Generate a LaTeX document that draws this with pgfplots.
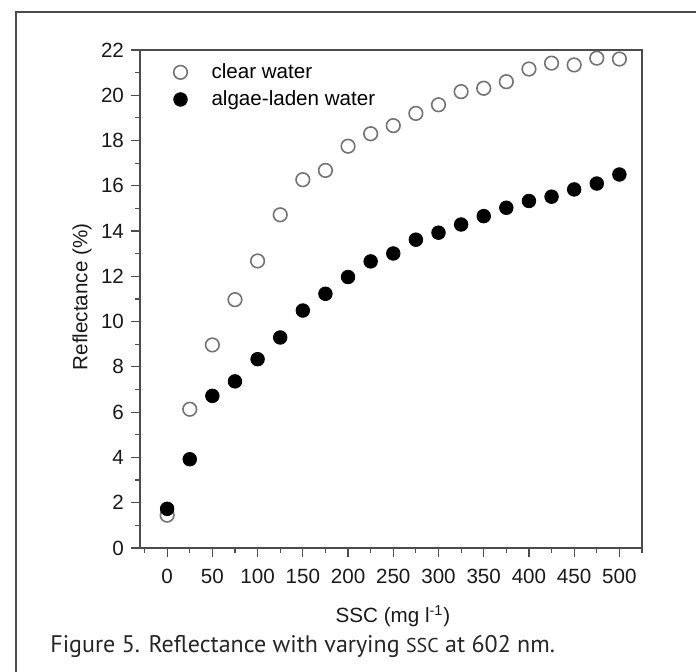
\documentclass[border=0pt]{standalone}
\usepackage{fontspec}
\setmainfont{Liberation Sans}
\newfontfamily\capfont{PT Sans}
\usepackage{pgfplots}
\usepackage{pgfplotstable}
\pgfplotsset{compat=1.18}

% SSC (mg/l), reflectance (%) at 602 nm
\pgfplotstableread{
ssc clear algae
0   1.45  1.73
25  6.13  3.92
50  8.97  6.72
75  10.97 7.36
100 12.68 8.34
125 14.72 9.30
150 16.27 10.49
175 16.68 11.23
200 17.75 11.97
225 18.30 12.66
250 18.66 13.01
275 19.20 13.62
300 19.58 13.93
325 20.16 14.29
350 20.31 14.66
375 20.60 15.03
400 21.16 15.33
425 21.42 15.52
450 21.34 15.84
475 21.64 16.10
500 21.60 16.50
}\refl

\begin{document}
\begin{tikzpicture}[x=1pt,y=1pt]
\useasboundingbox (0,0) rectangle (348,336);
% page frame
\draw[line width=0.7pt, black!70] (8,0) -- (8,330) -- (348,330);
\begin{axis}[
  at={(70pt,62pt)}, anchor=south west,
  scale only axis, width=251pt, height=249pt,
  xmin=-30, xmax=525, ymin=0, ymax=22,
  xtick={0,50,...,500}, minor xtick={-25,25,...,525},
  ytick={0,2,...,22}, minor ytick={1,3,...,21},
  tick pos=left, tick align=outside,
  major tick length=4.5pt, minor tick length=2.5pt,
  axis line style={black!70, line width=0.6pt},
  every tick/.style={black!70, line width=0.6pt},
  ticklabel style={font=\fontsize{10.3}{12}\selectfont, text=black!90},
  xticklabel style={yshift=-2.5pt},
  /pgf/number format/assume math mode=true,
  xlabel={SSC (mg l\textsuperscript{-1})},
  ylabel={Reflectance (\%)},
  label style={font=\fontsize{10.3}{12}\selectfont, text=black!90},
  xlabel style={at={(axis description cs:0.504,-0.1506)}, anchor=base},
  ylabel style={at={(axis description cs:-0.1155,0.504)}, anchor=center, rotate=0},
  legend image code/.code={%
    \path[draw=none, fill=none] (-4pt,0pt) -- (13.5pt,0pt);
    \draw[#1] plot coordinates {(0pt,0pt)};},
  legend style={at={(axis description cs:0.052,0.99)}, anchor=north west,
    draw=none, fill=none, font=\fontsize{10.3}{12}\selectfont,
    row sep=0.6pt},
  legend cell align=left,
]
\addplot[only marks, mark=o, mark size=3.4pt, mark options={draw=black!55, line width=0.8pt}]
  table[x=ssc, y=clear] {\refl};
\addlegendentry{clear water}
\addplot[only marks, mark=*, mark size=3.4pt, mark options={draw=black, fill=black}]
  table[x=ssc, y=algae] {\refl};
\addlegendentry{algae-laden water}
\end{axis}
\node[anchor=base west, inner sep=0pt, font=\capfont\fontsize{12}{14}\selectfont, text=black!85]
  at (25,9.5) {Figure 5. Reflectance with varying {\fontsize{10}{12}\selectfont SSC} at 602 nm.};
\end{tikzpicture}
\end{document}
